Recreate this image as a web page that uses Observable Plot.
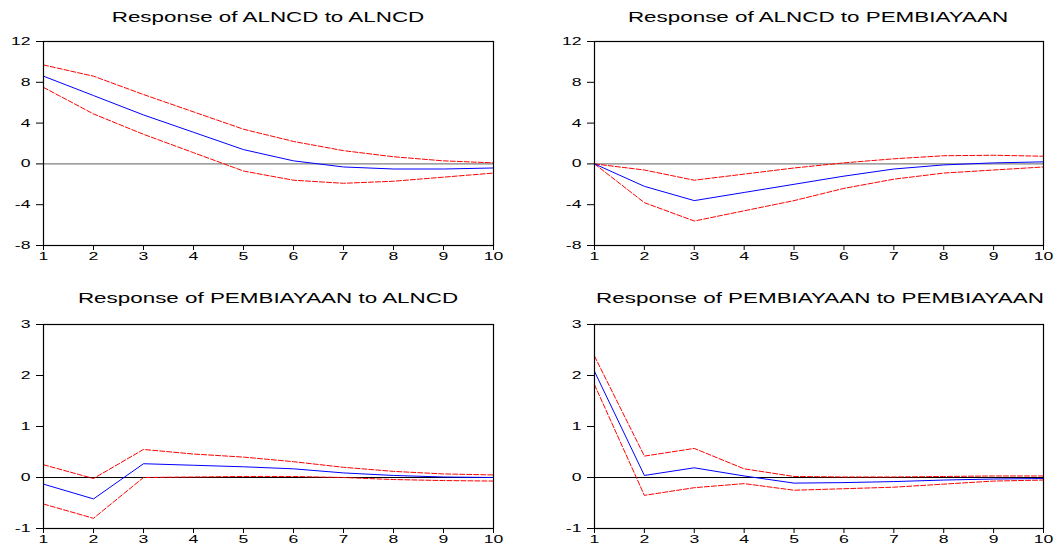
<!DOCTYPE html>
<html><head><meta charset="utf-8">
<script src="https://cdn.jsdelivr.net/npm/d3@7"></script>
<script src="https://cdn.jsdelivr.net/npm/@observablehq/plot@0.6"></script>
<style>
body{margin:0;background:#fff;width:1057px;height:546px;overflow:hidden;position:relative;font-family:"Liberation Sans",Arial,sans-serif;}
.panel{position:absolute;}
.title{position:absolute;font-size:14px;color:#000;white-space:nowrap;transform:translate(-50%,-50%) scaleX(1.6);}
</style></head><body>
<script>
// Periods
const steps = [1,2,3,4,5,6,7,8,9,10];

// Response of ALNCD to ALNCD
const aa_resp  = [8.6, 6.7, 4.8, 3.1, 1.4, 0.3, -0.3, -0.5, -0.5, -0.4];
const aa_upper = [9.7, 8.6, 6.8, 5.1, 3.4, 2.2, 1.3, 0.7, 0.3, 0.1];
const aa_lower = [7.5, 4.9, 2.9, 1.1, -0.7, -1.6, -1.9, -1.7, -1.3, -0.9];

// Response of ALNCD to PEMBIAYAAN
const ap_resp  = [0, -2.2, -3.6, -2.8, -2.0, -1.2, -0.5, -0.1, 0.1, 0.2];
const ap_upper = [0, -0.6, -1.6, -1.0, -0.4, 0.1, 0.5, 0.8, 0.85, 0.75];
const ap_lower = [0, -3.8, -5.6, -4.6, -3.6, -2.4, -1.5, -0.9, -0.6, -0.3];

// Response of PEMBIAYAAN to ALNCD
const pa_resp  = [-0.13, -0.42, 0.27, 0.24, 0.21, 0.17, 0.09, 0.04, 0.01, 0.0];
const pa_upper = [0.25, -0.02, 0.55, 0.46, 0.40, 0.31, 0.20, 0.12, 0.07, 0.05];
const pa_lower = [-0.52, -0.80, 0.0, 0.01, 0.02, 0.02, 0.0, -0.04, -0.06, -0.07];

// Response of PEMBIAYAAN to PEMBIAYAAN
const pp_resp  = [2.08, 0.04, 0.19, 0.03, -0.11, -0.10, -0.08, -0.05, -0.03, -0.02];
const pp_upper = [2.38, 0.42, 0.57, 0.17, 0.02, 0.01, 0.01, 0.02, 0.03, 0.03];
const pp_lower = [1.82, -0.35, -0.20, -0.12, -0.25, -0.22, -0.19, -0.13, -0.07, -0.05];

// Axis ticks
const topTicks = [-8, -4, 0, 4, 8, 12];
const bottomTicks = [-1, 0, 1, 2, 3];

function stretchText(svg, k) {
  svg.querySelectorAll('g[aria-label$="tick label"] text').forEach(t => {
    const w = t.getComputedTextLength();
    if (w > 0) {
      t.setAttribute('textLength', (w * k).toFixed(2));
      t.setAttribute('lengthAdjust', 'spacingAndGlyphs');
    }
  });
}

function panel(o) {
  const rows = steps.map((s, i) => ({step: s, resp: o.resp[i], upper: o.upper[i], lower: o.lower[i]}));
  const chart = Plot.plot({
    width: o.width, height: o.height,
    marginTop: o.mt, marginBottom: o.mb, marginLeft: o.ml, marginRight: o.mr,
    style: {fontFamily: '"Liberation Sans", Arial, sans-serif', fontSize: "11px", color: "#000", background: "white", overflow: "visible"},
    x: {domain: [1, 10], ticks: steps, tickSize: 5, tickPadding: 2, label: null, tickFormat: d => String(d)},
    y: {domain: o.domain, ticks: o.ticks, tickSize: 7, tickPadding: 6, label: null, tickFormat: d => String(d)},
    marks: [
      Plot.ruleY([0], {stroke: o.zero, strokeWidth: 1.2}),
      Plot.line(rows, {x: "step", y: "upper", stroke: "#ff0000", strokeWidth: 1, strokeDasharray: "5,2"}),
      Plot.line(rows, {x: "step", y: "lower", stroke: "#ff0000", strokeWidth: 1, strokeDasharray: "5,2"}),
      Plot.line(rows, {x: "step", y: "resp", stroke: "#0000ff", strokeWidth: 1}),
      Plot.frame({stroke: "#000", strokeWidth: 1.2})
    ]
  });
  const div = document.createElement("div");
  div.className = "panel";
  div.style.left = o.left + "px";
  div.style.top = o.top + "px";
  div.appendChild(chart);
  document.body.appendChild(div);
  stretchText(chart, 1.6);
  const t = document.createElement("div");
  t.className = "title";
  t.textContent = o.title;
  t.style.left = o.tx + "px";
  t.style.top = o.ty + "px";
  document.body.appendChild(t);
}

const L = {left: 0, width: 528, ml: 43, mr: 35};
const R = {left: 551, width: 506, ml: 43, mr: 14};
const T = {top: 0, height: 270, mt: 41, mb: 25, domain: [-8, 12], ticks: topTicks, zero: "#808080", ty: 17};
const B = {top: 283, height: 263, mt: 41, mb: 18, domain: [-1, 3], ticks: bottomTicks, zero: "#000", ty: 298};

panel({...L, ...T, resp: aa_resp, upper: aa_upper, lower: aa_lower, title: "Response of ALNCD to ALNCD", tx: 268});
panel({...R, ...T, resp: ap_resp, upper: ap_upper, lower: ap_lower, title: "Response of ALNCD to PEMBIAYAAN", tx: 818});
panel({...L, ...B, resp: pa_resp, upper: pa_upper, lower: pa_lower, title: "Response of PEMBIAYAAN to ALNCD", tx: 268});
panel({...R, ...B, resp: pp_resp, upper: pp_upper, lower: pp_lower, title: "Response of PEMBIAYAAN to PEMBIAYAAN", tx: 820});
</script>
</body></html>
